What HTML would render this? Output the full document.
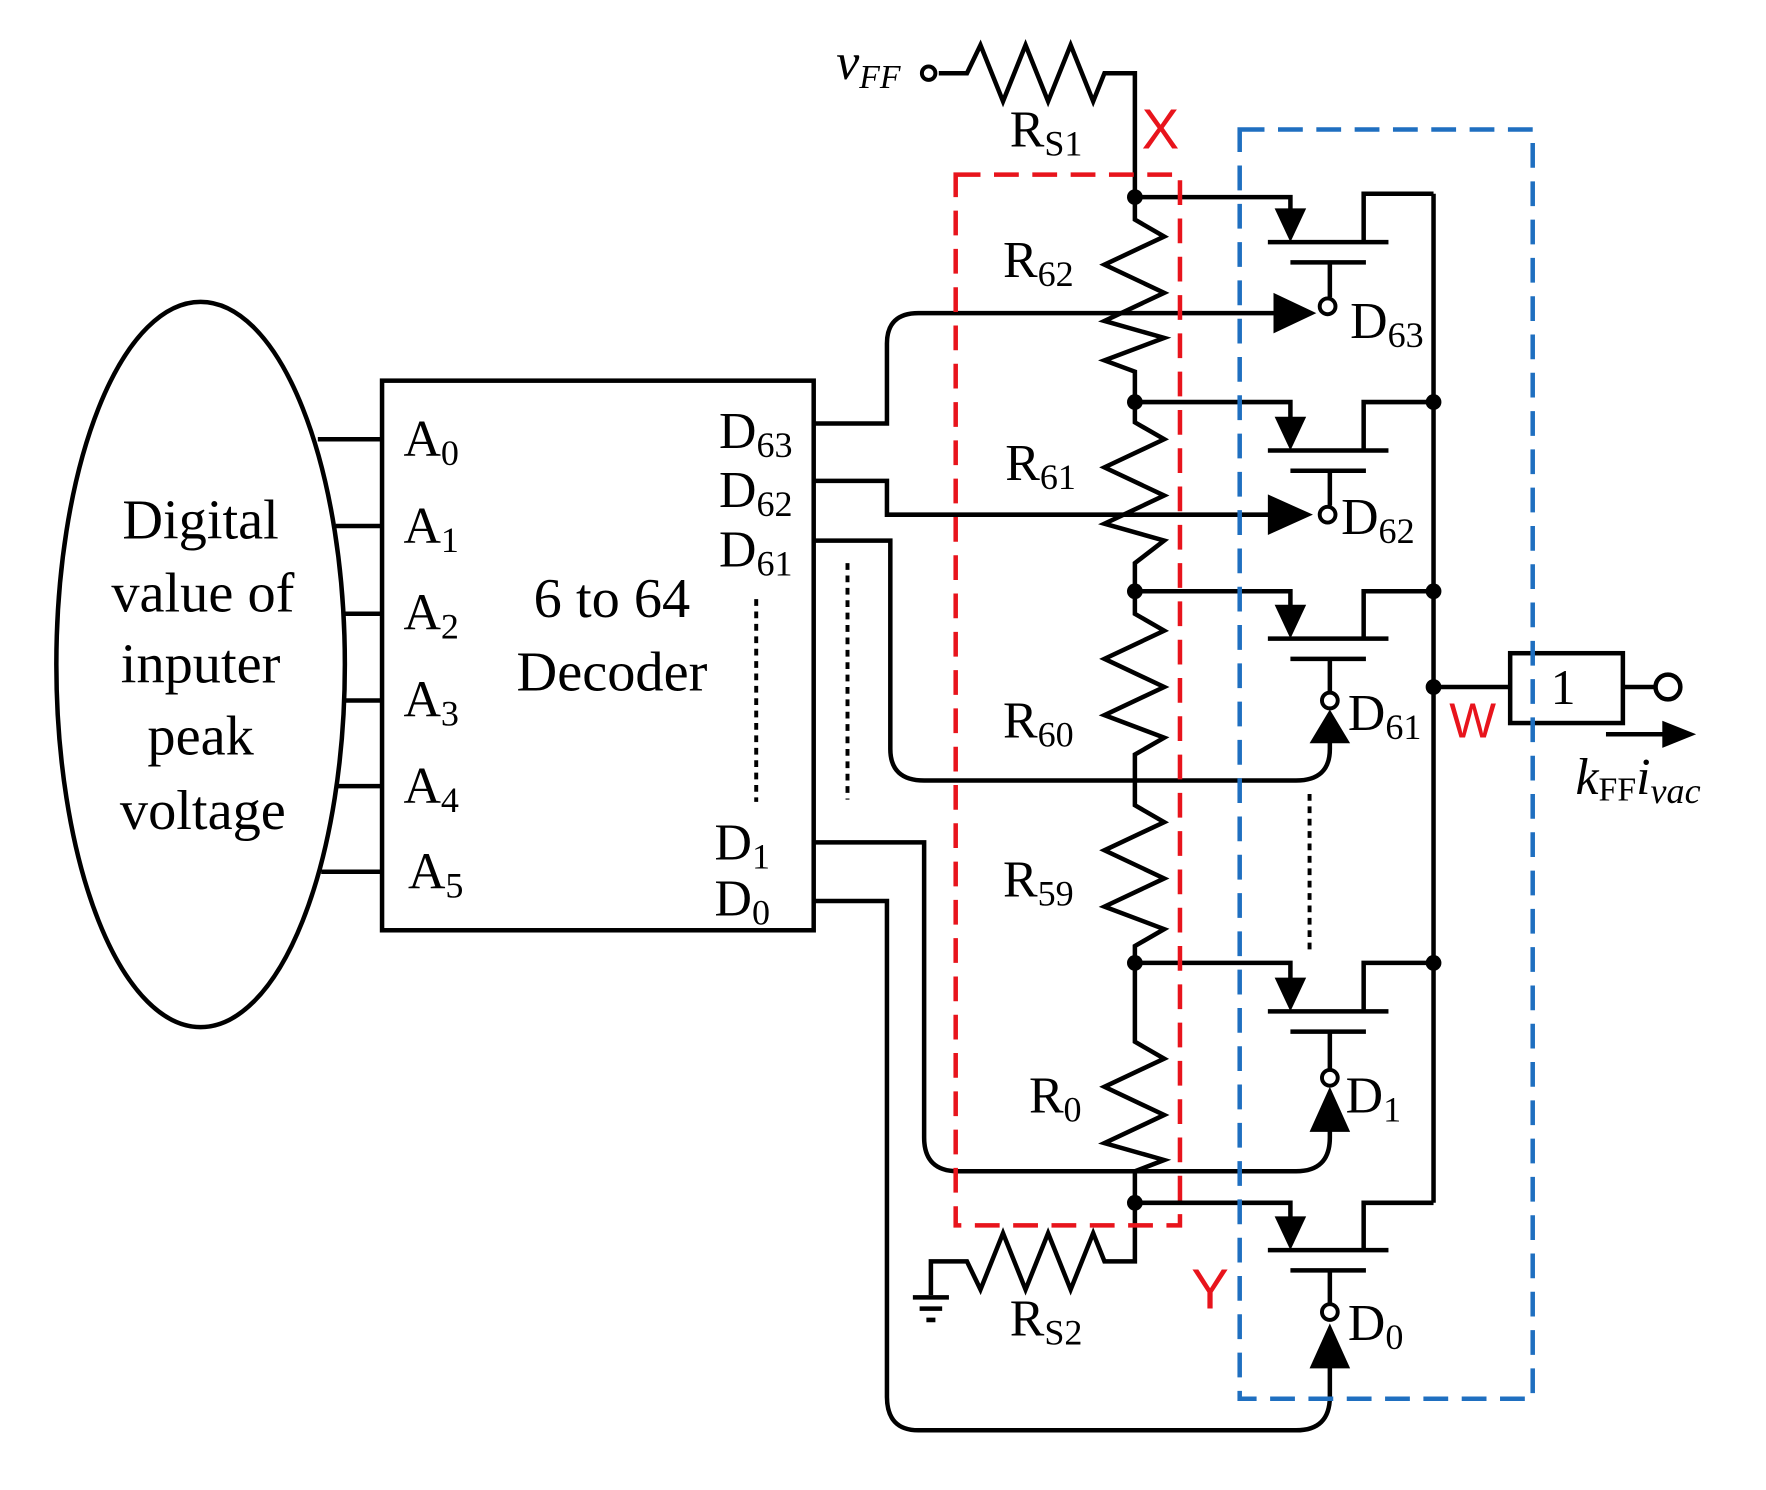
<!DOCTYPE html><html><head><style>html,body{margin:0;padding:0;background:#fff}svg{display:block}</style></head><body>
<svg width="1766" height="1490" viewBox="0 0 1567 1323" preserveAspectRatio="none" xmlns="http://www.w3.org/2000/svg" font-family="Liberation Serif, serif">
<g fill="none" stroke="#000" stroke-width="4">
<ellipse cx="178" cy="590" rx="128" ry="322"/>
<rect x="339" y="338" width="383" height="488"/>
<path d="M282 390H339M298 467H339M304 545H339M305 622H339M299 698H339M285 774H339"/>
<path d="M671 532V712M752 500V710M1162 705V848" stroke-dasharray="6 5" stroke-width="3.5"/>
<path d="M833 65H858L870 40L890 90L910 40L930 90L950 40L970 90L980 65H1007V175"/>
<path d="M1007 175V195L1033 210L980 235L1033 260L980 285L1033 300L980 320L1007 330V357V375L1033 390L980 415L1033 440L980 465L1033 480L1007 500V525V545L1033 560L980 585L1033 610L980 635L1033 655L1007 670V715L1033 730L980 755L1033 780L980 805L1033 825L1007 840V855V925L1033 940L980 965L1033 990L980 1015L1033 1030L1007 1040V1068V1120H980L970 1095L950 1145L930 1095L910 1145L890 1095L870 1145L858 1120H826V1150"/>
<path d="M810 1152H842M816 1162H836M822 1172H830"/>
<path d="M1272 172V1068M1272 610H1340M1440 610H1470"/>
<rect x="1340" y="580" width="100" height="62"/>
<circle cx="1480" cy="610" r="11"/>
<path d="M1425 652H1490"/>
<path d="M722 376H787V305Q787 278 815 278H1135"/>
<path d="M722 427H787V457H1130"/>
<path d="M722 480H790V665Q790 693 820 693H1150Q1180 693 1180 665V650"/>
<path d="M722 748H820V1010Q820 1040 850 1040H1150Q1180 1040 1180 1010V990"/>
<path d="M722 800H787V1240Q787 1270 815 1270H1150Q1180 1270 1180 1240V1210"/>
</g>
<g fill="#000">
<path d="M1130 260L1168 278L1130 296Z"/><path d="M1125 439L1165 457L1125 475Z"/>
<path d="M1162 660L1180 630L1198 660Z"/><path d="M1162 1005L1180 965L1198 1005Z"/><path d="M1162 1215L1180 1175L1198 1215Z"/>
<path d="M1475 640L1505 652L1475 664Z"/>
<circle cx="1007" cy="175" r="7"/><circle cx="1007" cy="357" r="7"/><circle cx="1007" cy="525" r="7"/><circle cx="1007" cy="855" r="7"/><circle cx="1007" cy="1068" r="7"/>
<circle cx="1272" cy="357" r="7"/><circle cx="1272" cy="525" r="7"/><circle cx="1272" cy="610" r="7"/><circle cx="1272" cy="855" r="7"/>
</g>
<g fill="none" stroke="#000" stroke-width="4">
<path d="M1007 175H1145V190M1125 215H1232M1210 215V172H1272M1145 233H1212M1180 233V264"/>
<path d="M1007 357H1145V372M1125 400H1232M1210 400V357H1272M1145 418H1212M1180 418V449"/>
<path d="M1007 525H1145V540M1125 567H1232M1210 567V525H1272M1145 585H1212M1180 585V614"/>
<path d="M1007 855H1145V870M1125 898H1232M1210 898V855H1272M1145 916H1212M1180 916V949"/>
<path d="M1007 1068H1145V1083M1125 1110H1232M1210 1110V1068H1272M1145 1128H1212M1180 1128V1157"/>
</g>
<g fill="#000">
<path d="M1131 185L1145 215L1159 185Z"/><path d="M1131 370L1145 400L1159 370Z"/><path d="M1131 537L1145 567L1159 537Z"/><path d="M1131 868L1145 898L1159 868Z"/><path d="M1131 1080L1145 1110L1159 1080Z"/>
</g>
<g fill="#fff" stroke="#000" stroke-width="3.5">
<circle cx="824" cy="65" r="6"/>
<circle cx="1178" cy="272" r="7"/><circle cx="1178" cy="457" r="7"/><circle cx="1180" cy="622" r="7"/><circle cx="1180" cy="957" r="7"/><circle cx="1180" cy="1165" r="7"/>
</g>
<rect x="848" y="155" width="199" height="933" fill="none" stroke="#e8141c" stroke-width="4" stroke-dasharray="22 12"/>
<rect x="1100" y="115" width="260" height="1127" fill="none" stroke="#1f6fc0" stroke-width="4" stroke-dasharray="22 12"/>
<g font-size="50" text-anchor="middle">
<text x="178" y="478">Digital</text><text x="180" y="543">value of</text><text x="178" y="606">inputer</text><text x="178" y="670">peak</text><text x="180" y="736">voltage</text>
<text x="543" y="548">6 to 64</text><text x="543" y="613">Decoder</text>
</g>
<g font-size="46">
<text x="358" y="405">A<tspan font-size="32" dy="8">0</tspan></text>
<text x="358" y="482">A<tspan font-size="32" dy="8">1</tspan></text>
<text x="358" y="559">A<tspan font-size="32" dy="8">2</tspan></text>
<text x="358" y="636">A<tspan font-size="32" dy="8">3</tspan></text>
<text x="358" y="713">A<tspan font-size="32" dy="8">4</tspan></text>
<text x="362" y="789">A<tspan font-size="32" dy="8">5</tspan></text>
<text x="638" y="398">D<tspan font-size="32" dy="8">63</tspan></text>
<text x="638" y="450">D<tspan font-size="32" dy="8">62</tspan></text>
<text x="638" y="503">D<tspan font-size="32" dy="8">61</tspan></text>
<text x="634" y="763">D<tspan font-size="32" dy="8">1</tspan></text>
<text x="634" y="813">D<tspan font-size="32" dy="8">0</tspan></text>
<text x="890" y="246">R<tspan font-size="32" dy="8">62</tspan></text>
<text x="892" y="426">R<tspan font-size="32" dy="8">61</tspan></text>
<text x="890" y="655">R<tspan font-size="32" dy="8">60</tspan></text>
<text x="890" y="796">R<tspan font-size="32" dy="8">59</tspan></text>
<text x="913" y="988">R<tspan font-size="32" dy="8">0</tspan></text>
<text x="896" y="130">R<tspan font-size="32" dy="8">S1</tspan></text>
<text x="896" y="1186">R<tspan font-size="32" dy="8">S2</tspan></text>
<text x="1198" y="300">D<tspan font-size="32" dy="8">63</tspan></text>
<text x="1190" y="474">D<tspan font-size="32" dy="8">62</tspan></text>
<text x="1196" y="648">D<tspan font-size="32" dy="8">61</tspan></text>
<text x="1194" y="988">D<tspan font-size="32" dy="8">1</tspan></text>
<text x="1196" y="1190">D<tspan font-size="32" dy="8">0</tspan></text>
<text x="742" y="70" font-style="italic">v<tspan font-size="30" dy="8">FF</tspan></text>
<text x="1398" y="705"><tspan font-style="italic">k</tspan><tspan font-size="30" dy="6">FF</tspan><tspan font-style="italic" dy="-6">i</tspan><tspan font-size="32" dy="8" font-style="italic">vac</tspan></text>
<text x="1376" y="625" font-size="44">1</text>
</g>
<g font-size="50" fill="#e8141c" font-family="Liberation Sans, sans-serif">
<text x="1013" y="132">X</text><text x="1057" y="1162">Y</text><text x="1286" y="655" font-size="44">W</text>
</g>
</svg>
</body></html>
